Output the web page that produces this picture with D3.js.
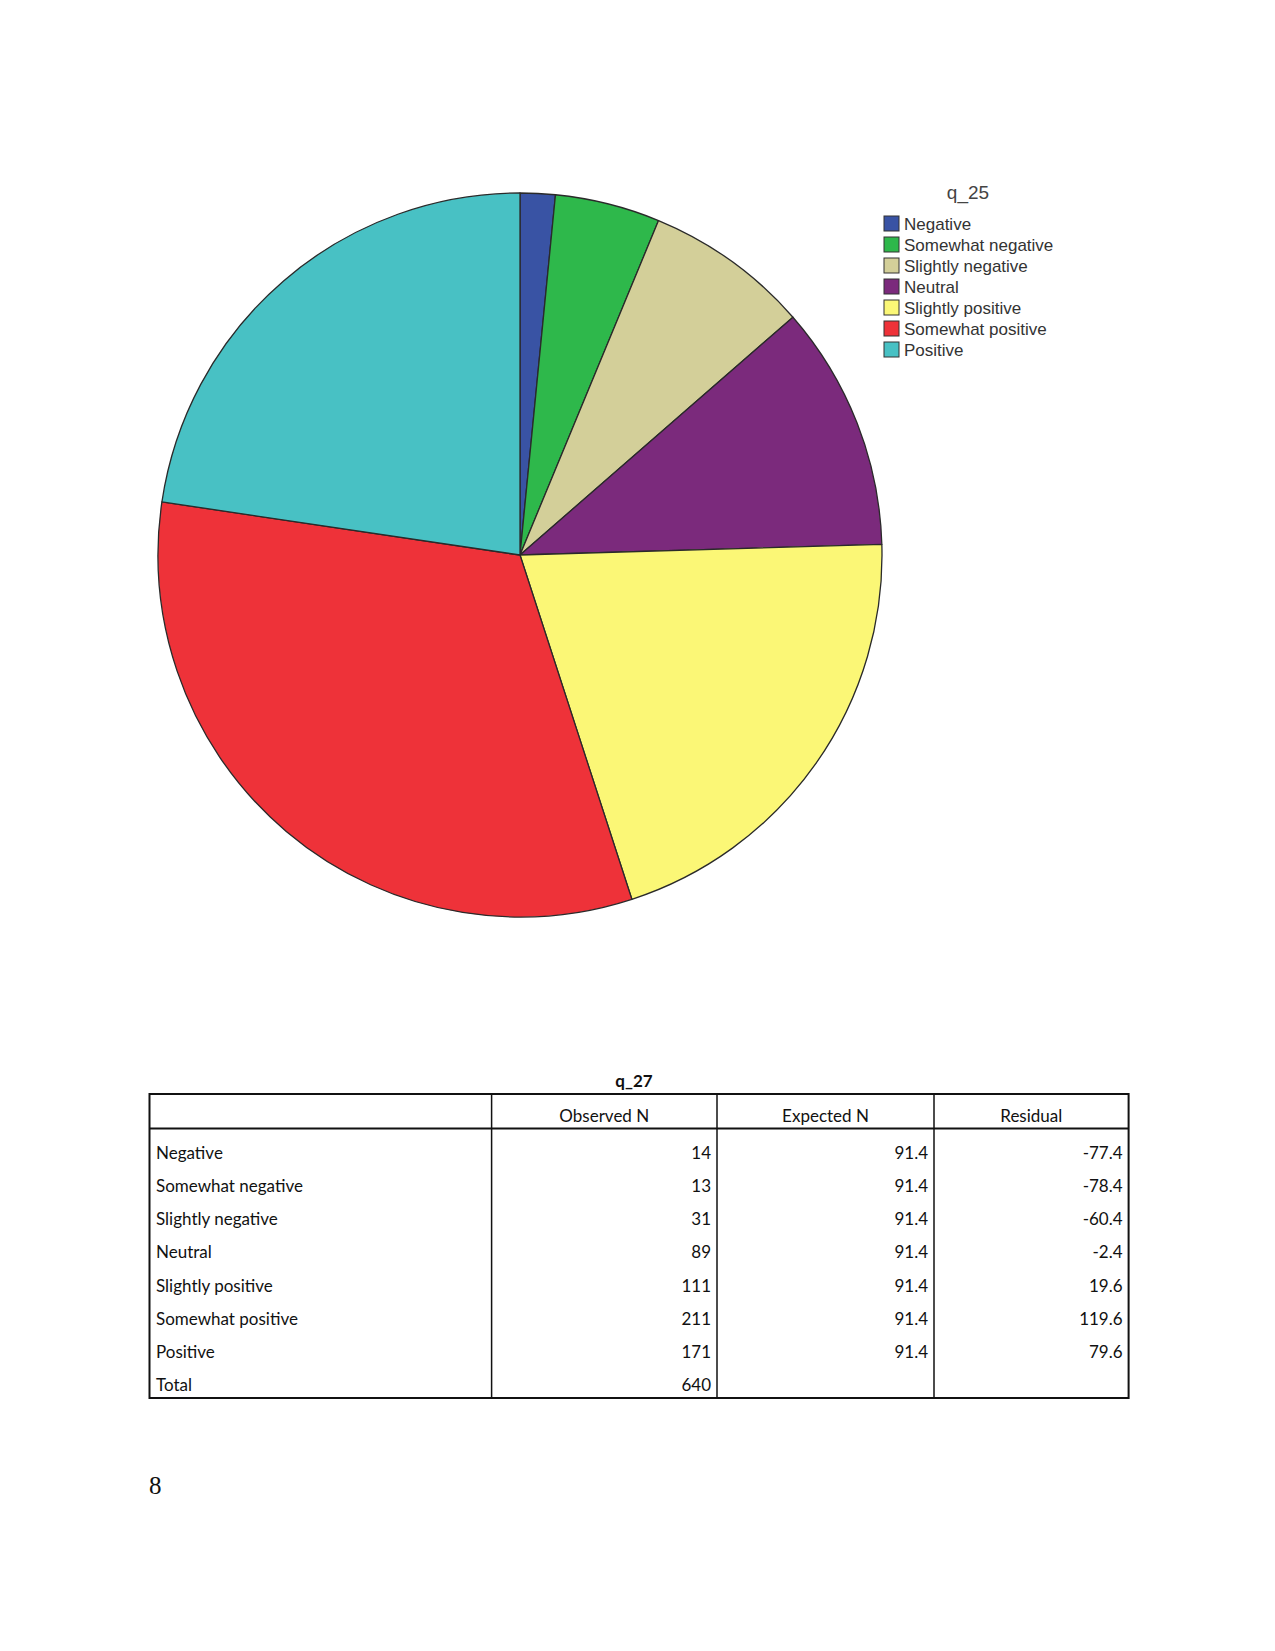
<!DOCTYPE html>
<html><head><meta charset="utf-8">
<script src="https://cdn.jsdelivr.net/npm/d3@7"></script>
<style>body{margin:0;background:#fff;}svg{display:block;}</style>
</head><body>
<script>
// Pie chart (q_25)
const categories = ["Negative","Somewhat negative","Slightly negative","Neutral","Slightly positive","Somewhat positive","Positive"];
const pieValues = [10, 30, 47, 70, 131, 207, 145];
const colors = ["#3953a4","#2eb84b","#d3cf99","#7b2a7c","#fbf776","#ee3239","#48c1c4"];
const legendTitle = "q_25";

// Table (q_27)
const tableTitle = "q_27";
const tableHeaders = ["", "Observed N", "Expected N", "Residual"];
const rowLabels = ["Negative","Somewhat negative","Slightly negative","Neutral","Slightly positive","Somewhat positive","Positive","Total"];
const observedN = ["14","13","31","89","111","211","171","640"];
const expectedN = ["91.4","91.4","91.4","91.4","91.4","91.4","91.4",""];
const residuals = ["-77.4","-78.4","-60.4","-2.4","19.6","119.6","79.6",""];
const pageNumber = "8";

const W = 1275, H = 1651;
const svg = d3.select("body").append("svg").attr("width", W).attr("height", H);

// ---- Pie ----
const cx = 520, cy = 555, R = 362;
const pie = d3.pie().sort(null).value(d => d);
const arc = d3.arc().innerRadius(0).outerRadius(R);
const g = svg.append("g").attr("transform", `translate(${cx},${cy})`);
g.selectAll("path").data(pie(pieValues)).join("path")
  .attr("d", arc)
  .attr("fill", (d, i) => colors[i])
  .attr("stroke", "#2a2a2a")
  .attr("stroke-width", 1.3)
  .attr("stroke-linejoin", "round");

// ---- Legend ----
const lg = svg.append("g").attr("font-family", "'Liberation Sans', Arial, sans-serif");
lg.append("text").attr("x", 968).attr("y", 199).attr("text-anchor", "middle")
  .attr("font-size", 19).attr("fill", "#444").text(legendTitle);
const ly = d3.scaleBand().domain(categories).range([216, 216 + 21 * categories.length]);
const items = lg.selectAll("g.item").data(categories).join("g").attr("class", "item")
  .attr("transform", d => `translate(884,${ly(d)})`);
items.append("rect").attr("width", 15).attr("height", 15)
  .attr("fill", (d, i) => colors[i]).attr("stroke", "#333").attr("stroke-width", 1);
items.append("text").attr("x", 20).attr("y", 14).attr("font-size", 17).attr("fill", "#333").text(d => d);

// ---- Table ----
const tf = "Lato, 'Open Sans', sans-serif";
const colX = [149.5, 491.6, 717, 934, 1128.6];
const tTop = 1094, hSep = 1128.6, tBot = 1398;
const t = svg.append("g").attr("font-family", tf).attr("font-size", 17).attr("fill", "#111");
t.append("text").attr("x", 634).attr("y", 1087).attr("text-anchor", "middle")
  .attr("font-weight", "bold").text(tableTitle);
t.append("rect").attr("x", colX[0]).attr("y", tTop).attr("width", colX[4] - colX[0]).attr("height", tBot - tTop)
  .attr("fill", "none").attr("stroke", "#111").attr("stroke-width", 2);
t.append("line").attr("x1", colX[0]).attr("x2", colX[4]).attr("y1", hSep).attr("y2", hSep)
  .attr("stroke", "#111").attr("stroke-width", 2);
[1, 2, 3].forEach(i => t.append("line").attr("x1", colX[i]).attr("x2", colX[i]).attr("y1", tTop).attr("y2", tBot)
  .attr("stroke", "#111").attr("stroke-width", 1.5));
tableHeaders.forEach((h, i) => {
  if (!h) return;
  t.append("text").attr("x", (colX[i] + colX[i + 1]) / 2).attr("y", 1122).attr("text-anchor", "middle").text(h);
});
const ry = d3.scalePoint().domain(d3.range(rowLabels.length)).range([1159, 1391]);
rowLabels.forEach((r, i) => {
  const y = ry(i);
  t.append("text").attr("x", 156).attr("y", y).text(r);
  t.append("text").attr("x", colX[2] - 6).attr("y", y).attr("text-anchor", "end").text(observedN[i]);
  t.append("text").attr("x", colX[3] - 6).attr("y", y).attr("text-anchor", "end").text(expectedN[i]);
  t.append("text").attr("x", colX[4] - 6).attr("y", y).attr("text-anchor", "end").text(residuals[i]);
});

svg.append("text").attr("x", 149).attr("y", 1494).attr("font-family", "'Liberation Serif', 'Times New Roman', serif")
  .attr("font-size", 25).attr("fill", "#111").text(pageNumber);
</script>
</body></html>
